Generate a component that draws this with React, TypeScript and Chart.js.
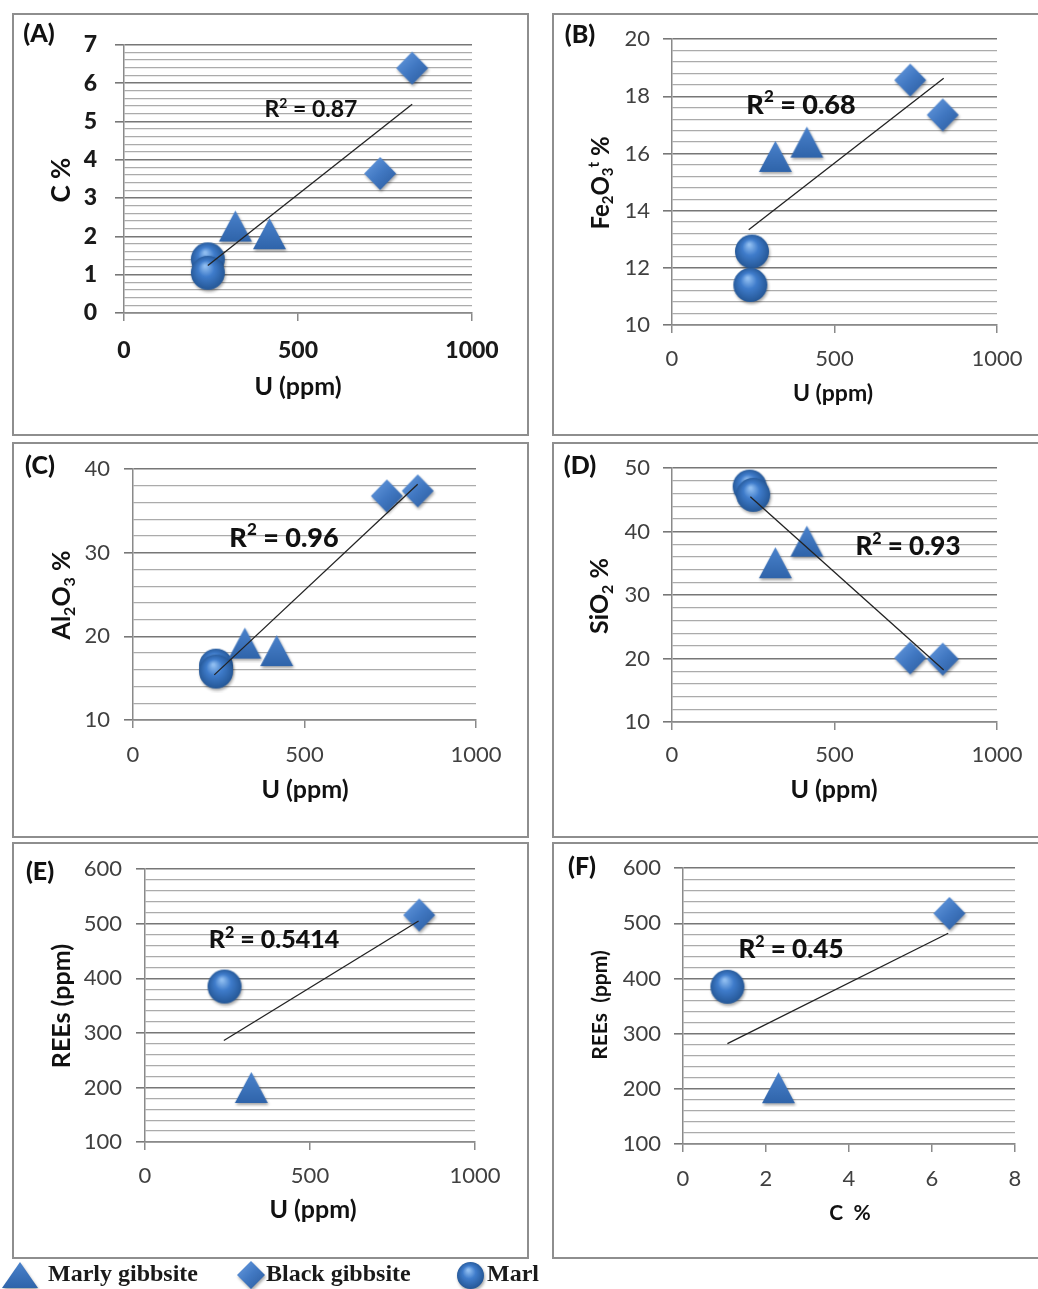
import React, { useEffect, useRef } from 'react';
import { Chart, registerables } from 'chart.js';

Chart.register(...registerables);

// ---------------- DATA ----------------
const SERIES_NAMES = ['Marly gibbsite', 'Black gibbsite', 'Marl'];

const X_U_TICKS = [0, 500, 1000];
const X_C_TICKS = [0, 2, 4, 6, 8];

// (A) U (ppm) vs C %
const A_Y_TICKS = [0, 1, 2, 3, 4, 5, 6, 7];
const A_MARLY_X = [320, 418];
const A_MARLY_Y = [2.27, 2.07];
const A_BLACK_X = [828, 736];
const A_BLACK_Y = [6.39, 3.64];
const A_MARL_X = [241, 241];
const A_MARL_Y = [1.4, 1.05];
const A_TREND_X = [241, 828];
const A_TREND_Y = [1.24, 5.45];
const A_R2 = 'R^2 = 0.87';

// (B) U (ppm) vs Fe2O3t %
const B_Y_TICKS = [10, 12, 14, 16, 18, 20];
const B_MARLY_X = [318, 415];
const B_MARLY_Y = [15.9, 16.4];
const B_BLACK_X = [733, 833];
const B_BLACK_Y = [18.57, 17.35];
const B_MARL_X = [246, 241];
const B_MARL_Y = [12.57, 11.4];
const B_TREND_X = [236, 836];
const B_TREND_Y = [13.33, 18.63];
const B_R2 = 'R^2 = 0.68';

// (C) U (ppm) vs Al2O3 %
const C_Y_TICKS = [10, 20, 30, 40];
const C_MARLY_X = [326, 419];
const C_MARLY_Y = [19.2, 18.3];
const C_BLACK_X = [740, 830];
const C_BLACK_Y = [36.8, 37.4];
const C_MARL_X = [242, 242];
const C_MARL_Y = [16.5, 15.8];
const C_TREND_X = [237, 830];
const C_TREND_Y = [15.4, 38.2];
const C_R2 = 'R^2 = 0.96';

// (D) U (ppm) vs SiO2 %
const D_Y_TICKS = [10, 20, 30, 40, 50];
const D_MARLY_X = [318, 415];
const D_MARLY_Y = [35.1, 38.5];
const D_BLACK_X = [733, 833];
const D_BLACK_Y = [20.1, 19.9];
const D_MARL_X = [239, 250];
const D_MARL_Y = [47.1, 45.8];
const D_TREND_X = [241, 836];
const D_TREND_Y = [45.5, 18.2];
const D_R2 = 'R^2 = 0.93';

// (E) U (ppm) vs REEs (ppm)
const E_Y_TICKS = [100, 200, 300, 400, 500, 600];
const E_MARLY_X = [322];
const E_MARLY_Y = [200];
const E_BLACK_X = [831];
const E_BLACK_Y = [516];
const E_MARL_X = [241];
const E_MARL_Y = [385];
const E_TREND_X = [239, 829];
const E_TREND_Y = [286, 505];
const E_R2 = 'R^2 = 0.5414';

// (F) C % vs REEs (ppm)
const F_Y_TICKS = [100, 200, 300, 400, 500, 600];
const F_MARLY_X = [2.3];
const F_MARLY_Y = [202];
const F_BLACK_X = [6.42];
const F_BLACK_Y = [518];
const F_MARL_X = [1.07];
const F_MARL_Y = [385];
const F_TREND_X = [1.07, 6.39];
const F_TREND_Y = [282, 482];
const F_R2 = 'R^2 = 0.45';

// ---------------- LAYOUT / STYLE ----------------
type Rect = [number, number, number, number];
type TextSpec = { text: string; x: number; y: number; size: number; weight: string; rot?: boolean };
type Panel = {
  box: Rect;
  plot: Rect;
  xTicks: number[];
  yTicks: number[];
  yMinor: number;
  tickSize: number;
  tickWeight: string;
  tickColor: string;
  xPad: number;
  yPad: number;
  marly: [number[], number[]];
  black: [number[], number[]];
  marl: [number[], number[]];
  trend: [number[], number[]];
  texts: TextSpec[];
  rightBorder: boolean;
};

const FONT = 'Lato';

const PANELS: Panel[] = [
  {
    box: [12, 13, 529, 436], plot: [124, 41, 472, 313],
    xTicks: X_U_TICKS, yTicks: A_Y_TICKS, yMinor: 0.2,
    tickSize: 23, tickWeight: '900', tickColor: '#1a1a1a', xPad: 16, yPad: 18,
    marly: [A_MARLY_X, A_MARLY_Y], black: [A_BLACK_X, A_BLACK_Y], marl: [A_MARL_X, A_MARL_Y], trend: [A_TREND_X, A_TREND_Y],
    texts: [
      { text: '(A)', x: 39, y: 34, size: 25, weight: '900' },
      { text: A_R2, x: 311, y: 110, size: 23, weight: 'bold' },
      { text: 'U (ppm)', x: 298, y: 387, size: 25, weight: 'bold' },
      { text: 'C %', x: 62, y: 180, size: 26, weight: 'bold', rot: true },
    ],
    rightBorder: true,
  },
  {
    box: [552, 13, 1038, 436], plot: [672, 39, 997, 325],
    xTicks: X_U_TICKS, yTicks: B_Y_TICKS, yMinor: 0.4,
    tickSize: 22, tickWeight: 'normal', tickColor: '#404040', xPad: 13, yPad: 13,
    marly: [B_MARLY_X, B_MARLY_Y], black: [B_BLACK_X, B_BLACK_Y], marl: [B_MARL_X, B_MARL_Y], trend: [B_TREND_X, B_TREND_Y],
    texts: [
      { text: '(B)', x: 580, y: 35, size: 25, weight: '900' },
      { text: B_R2, x: 801, y: 105, size: 27, weight: '900' },
      { text: 'U (ppm)', x: 833, y: 394, size: 23, weight: 'bold' },
      { text: 'Fe_2O_3^t %', x: 601, y: 183, size: 24, weight: 'bold', rot: true },
    ],
    rightBorder: false,
  },
  {
    box: [12, 442, 529, 838], plot: [133, 468, 476, 720],
    xTicks: X_U_TICKS, yTicks: C_Y_TICKS, yMinor: 2,
    tickSize: 22, tickWeight: 'normal', tickColor: '#404040', xPad: 14, yPad: 14,
    marly: [C_MARLY_X, C_MARLY_Y], black: [C_BLACK_X, C_BLACK_Y], marl: [C_MARL_X, C_MARL_Y], trend: [C_TREND_X, C_TREND_Y],
    texts: [
      { text: '(C)', x: 40, y: 466, size: 25, weight: '900' },
      { text: C_R2, x: 284, y: 538, size: 27, weight: '900' },
      { text: 'U (ppm)', x: 305, y: 790, size: 25, weight: 'bold' },
      { text: 'Al_2O_3 %', x: 62, y: 595, size: 25, weight: 'bold', rot: true },
    ],
    rightBorder: true,
  },
  {
    box: [552, 442, 1038, 838], plot: [672, 468, 997, 722],
    xTicks: X_U_TICKS, yTicks: D_Y_TICKS, yMinor: 2,
    tickSize: 22, tickWeight: 'normal', tickColor: '#404040', xPad: 12, yPad: 13,
    marly: [D_MARLY_X, D_MARLY_Y], black: [D_BLACK_X, D_BLACK_Y], marl: [D_MARL_X, D_MARL_Y], trend: [D_TREND_X, D_TREND_Y],
    texts: [
      { text: '(D)', x: 580, y: 466, size: 25, weight: '900' },
      { text: D_R2, x: 908, y: 547, size: 26, weight: '900' },
      { text: 'U (ppm)', x: 834, y: 790, size: 25, weight: 'bold' },
      { text: 'SiO_2 %', x: 600, y: 596, size: 25, weight: 'bold', rot: true },
    ],
    rightBorder: false,
  },
  {
    box: [12, 842, 529, 1259], plot: [145, 868, 475, 1142],
    xTicks: X_U_TICKS, yTicks: E_Y_TICKS, yMinor: 20,
    tickSize: 22, tickWeight: 'normal', tickColor: '#404040', xPad: 13, yPad: 14,
    marly: [E_MARLY_X, E_MARLY_Y], black: [E_BLACK_X, E_BLACK_Y], marl: [E_MARL_X, E_MARL_Y], trend: [E_TREND_X, E_TREND_Y],
    texts: [
      { text: '(E)', x: 40, y: 872, size: 25, weight: '900' },
      { text: E_R2, x: 274, y: 940, size: 25, weight: '900' },
      { text: 'U (ppm)', x: 313, y: 1210, size: 25, weight: 'bold' },
      { text: 'REEs (ppm)', x: 62, y: 1006, size: 25, weight: 'bold', rot: true },
    ],
    rightBorder: true,
  },
  {
    box: [552, 842, 1038, 1259], plot: [683, 868, 1015, 1144],
    xTicks: X_C_TICKS, yTicks: F_Y_TICKS, yMinor: 20,
    tickSize: 22, tickWeight: 'normal', tickColor: '#404040', xPad: 14, yPad: 13,
    marly: [F_MARLY_X, F_MARLY_Y], black: [F_BLACK_X, F_BLACK_Y], marl: [F_MARL_X, F_MARL_Y], trend: [F_TREND_X, F_TREND_Y],
    texts: [
      { text: '(F)', x: 582, y: 867, size: 25, weight: '900' },
      { text: F_R2, x: 791, y: 950, size: 26, weight: '900' },
      { text: 'C  %', x: 850, y: 1213, size: 21, weight: 'bold' },
      { text: 'REEs  (ppm)', x: 600, y: 1005, size: 21, weight: 'bold', rot: true },
    ],
    rightBorder: false,
  },
];

// ---------------- HELPERS ----------------
function zip(xs: number[], ys: number[]) {
  return xs.map((x, i) => ({ x, y: ys[i] }));
}

function makeMarker(kind: 'tri' | 'dia' | 'cir', w: number, h: number): HTMLCanvasElement {
  const pad = 4;
  const c = document.createElement('canvas');
  c.width = w + pad * 2;
  c.height = h + pad * 2;
  const ctx = c.getContext('2d')!;
  ctx.translate(pad, pad);
  ctx.shadowColor = 'rgba(0,0,0,0.35)';
  ctx.shadowBlur = 3;
  ctx.shadowOffsetX = 1;
  ctx.shadowOffsetY = 2;
  ctx.beginPath();
  if (kind === 'tri') {
    ctx.moveTo(w / 2, 0);
    ctx.lineTo(w, h);
    ctx.lineTo(0, h);
    ctx.closePath();
    const g = ctx.createLinearGradient(0, 0, 0, h);
    g.addColorStop(0, '#4a82cc');
    g.addColorStop(1, '#2f64aa');
    ctx.fillStyle = g;
  } else if (kind === 'dia') {
    ctx.moveTo(w / 2, 0);
    ctx.lineTo(w, h / 2);
    ctx.lineTo(w / 2, h);
    ctx.lineTo(0, h / 2);
    ctx.closePath();
    const g = ctx.createLinearGradient(0, 0, w, h);
    g.addColorStop(0, '#6a9ee2');
    g.addColorStop(0.5, '#4178c2');
    g.addColorStop(1, '#2a5a9c');
    ctx.fillStyle = g;
  } else {
    ctx.arc(w / 2, h / 2, w / 2, 0, Math.PI * 2);
    const g = ctx.createRadialGradient(w * 0.42, h * 0.3, 1, w * 0.5, h * 0.5, w * 0.55);
    g.addColorStop(0, '#8fbdf0');
    g.addColorStop(0.4, '#3f7ccb');
    g.addColorStop(1, '#21528f');
    ctx.fillStyle = g;
  }
  ctx.fill();
  return c;
}

function parseRich(s: string) {
  const segs: { t: string; k: number }[] = [];
  let buf = '';
  let i = 0;
  while (i < s.length) {
    const ch = s[i];
    if ((ch === '_' || ch === '^') && i + 1 < s.length) {
      if (buf) { segs.push({ t: buf, k: 0 }); buf = ''; }
      segs.push({ t: s[i + 1], k: ch === '_' ? 1 : -1 });
      i += 2;
    } else {
      buf += ch;
      i++;
    }
  }
  if (buf) segs.push({ t: buf, k: 0 });
  return segs;
}

function drawRich(ctx: CanvasRenderingContext2D, spec: TextSpec, ox: number, oy: number, color: string) {
  const segs = parseRich(spec.text);
  const fontFor = (k: number) => `${spec.weight} ${k ? Math.round(spec.size * 0.62) : spec.size}px ${FONT}`;
  let total = 0;
  const ws = segs.map((sg) => {
    ctx.font = fontFor(sg.k);
    const w = ctx.measureText(sg.t).width;
    total += w;
    return w;
  });
  ctx.save();
  ctx.translate(spec.x - ox, spec.y - oy);
  if (spec.rot) ctx.rotate(-Math.PI / 2);
  ctx.fillStyle = color;
  ctx.textBaseline = 'middle';
  ctx.textAlign = 'left';
  let cx = -total / 2;
  segs.forEach((sg, i) => {
    ctx.font = fontFor(sg.k);
    const dy = sg.k === 1 ? spec.size * 0.3 : sg.k === -1 ? -spec.size * 0.3 : 0;
    ctx.fillText(sg.t, cx, dy);
    cx += ws[i];
  });
  ctx.restore();
}

function isMajor(v: number, ticks: number[]) {
  return ticks.some((t) => Math.abs(t - v) < 1e-6);
}

function buildChart(canvas: HTMLCanvasElement, p: Panel, markers: { tri: HTMLCanvasElement; dia: HTMLCanvasElement; cir: HTMLCanvasElement }) {
  const [bl, bt, br, bb] = p.box;
  const [pl, pt, pr, pb] = p.plot;
  const yMin = p.yTicks[0];
  const yMax = p.yTicks[p.yTicks.length - 1];
  const xMin = p.xTicks[0];
  const xMax = p.xTicks[p.xTicks.length - 1];
  const xStep = p.xTicks[1] - p.xTicks[0];
  const tickFont = { family: FONT, size: p.tickSize, weight: p.tickWeight as any };

  const textPlugin = {
    id: 'panelTexts',
    afterDatasetsDraw(chart: any) {
      const ctx = chart.ctx as CanvasRenderingContext2D;
      p.texts.forEach((t) => drawRich(ctx, t, bl, bt, '#111111'));
    },
  };

  return new Chart(canvas, {
    type: 'scatter',
    data: {
      datasets: [
        {
          label: 'trend',
          data: zip(p.trend[0], p.trend[1]),
          showLine: true,
          borderColor: '#222222',
          borderWidth: 1.3,
          pointRadius: 0,
          pointHoverRadius: 0,
          order: 0,
        },
        {
          label: SERIES_NAMES[0],
          data: zip(p.marly[0], p.marly[1]),
          pointStyle: markers.tri as any,
          pointRadius: 17,
          order: 1,
        },
        {
          label: SERIES_NAMES[1],
          data: zip(p.black[0], p.black[1]),
          pointStyle: markers.dia as any,
          pointRadius: 17,
          order: 2,
        },
        {
          label: SERIES_NAMES[2],
          data: zip(p.marl[0], p.marl[1]),
          pointStyle: markers.cir as any,
          pointRadius: 17,
          order: 3,
        },
      ],
    },
    options: {
      responsive: false,
      animation: false,
      devicePixelRatio: 1,
      layout: { padding: { left: 0, top: pt - bt, right: br - pr, bottom: 0 } },
      plugins: { legend: { display: false }, tooltip: { enabled: false }, title: { display: false } },
      scales: {
        x: {
          type: 'linear',
          min: xMin,
          max: xMax,
          afterFit: (scale: any) => { scale.height = bb - pb; },
          ticks: {
            stepSize: xStep,
            font: tickFont,
            color: p.tickColor,
            padding: p.xPad,
            maxRotation: 0,
            autoSkip: false,
            callback: (v: any) => String(v),
          },
          grid: { display: true, drawOnChartArea: false, drawTicks: true, tickLength: 8, color: '#8a8a8a', lineWidth: 1.5 },
          border: { display: true, color: '#8a8a8a', width: 1.5 },
        },
        y: {
          type: 'linear',
          min: yMin,
          max: yMax,
          afterFit: (scale: any) => { scale.width = pl - bl; },
          ticks: {
            stepSize: p.yMinor,
            autoSkip: false,
            font: tickFont,
            color: p.tickColor,
            padding: p.yPad,
            callback: (v: any) => (isMajor(Number(v), p.yTicks) ? String(Math.round(Number(v))) : ''),
          },
          grid: {
            display: true,
            drawOnChartArea: true,
            drawTicks: true,
            tickLength: 9,
            color: (c: any) => (isMajor(c.tick?.value, p.yTicks) ? '#777777' : '#ababab'),
            tickColor: (c: any) => (isMajor(c.tick?.value, p.yTicks) ? '#777777' : 'rgba(0,0,0,0)'),
            lineWidth: (c: any) => (isMajor(c.tick?.value, p.yTicks) ? 1.6 : 1.3),
          },
          border: { display: true, color: '#8a8a8a', width: 1.5 },
        },
      },
    },
    plugins: [textPlugin],
  } as any);
}

// ---------------- COMPONENT ----------------
export default function App() {
  const canvasRefs = useRef<(HTMLCanvasElement | null)[]>([]);
  const legRefs = useRef<(HTMLCanvasElement | null)[]>([]);

  useEffect(() => {
    const markers = {
      tri: makeMarker('tri', 33, 31),
      dia: makeMarker('dia', 32, 33),
      cir: makeMarker('cir', 34, 34),
    };
    const charts = PANELS.map((p, i) => buildChart(canvasRefs.current[i]!, p, markers));

    const legMarkers = [makeMarker('tri', 36, 26), makeMarker('dia', 28, 28), makeMarker('cir', 27, 27)];
    legRefs.current.forEach((c, i) => {
      if (!c) return;
      const ctx = c.getContext('2d')!;
      ctx.clearRect(0, 0, c.width, c.height);
      const m = legMarkers[i];
      ctx.drawImage(m, (c.width - m.width) / 2, (c.height - m.height) / 2);
    });

    return () => charts.forEach((c) => c.destroy());
  }, []);

  const legendItems = [
    { icon: [0, 1258, 40, 34], text: SERIES_NAMES[0], tx: 48 },
    { icon: [233, 1257, 36, 36], text: SERIES_NAMES[1], tx: 266 },
    { icon: [453, 1258, 35, 35], text: SERIES_NAMES[2], tx: 487 },
  ];

  return (
    <div style={{ position: 'absolute', left: 0, top: 0, width: 1038, height: 1289, overflow: 'hidden', background: '#ffffff' }}>
      {PANELS.map((p, i) => {
        const [l, t, r, b] = p.box;
        return (
          <React.Fragment key={i}>
            <canvas
              ref={(el) => { canvasRefs.current[i] = el; }}
              width={r - l}
              height={b - t}
              style={{ position: 'absolute', left: l, top: t, width: r - l, height: b - t }}
            />
            <div
              style={{
                position: 'absolute',
                left: l,
                top: t,
                width: (p.rightBorder ? r - l : r - l + 10),
                height: b - t,
                boxSizing: 'border-box',
                border: '2px solid #8e8e8e',
                pointerEvents: 'none',
              }}
            />
          </React.Fragment>
        );
      })}
      {legendItems.map((it, i) => (
        <React.Fragment key={'leg' + i}>
          <canvas
            ref={(el) => { legRefs.current[i] = el; }}
            width={it.icon[2]}
            height={it.icon[3]}
            style={{ position: 'absolute', left: it.icon[0], top: it.icon[1], width: it.icon[2], height: it.icon[3] }}
          />
          <div
            style={{
              position: 'absolute',
              left: it.tx,
              top: 1261,
              fontFamily: '"Liberation Serif", serif',
              fontWeight: 'bold',
              fontSize: 24,
              lineHeight: '25px',
              color: '#1a1a1a',
              whiteSpace: 'nowrap',
            }}
          >
            {it.text}
          </div>
        </React.Fragment>
      ))}
    </div>
  );
}
